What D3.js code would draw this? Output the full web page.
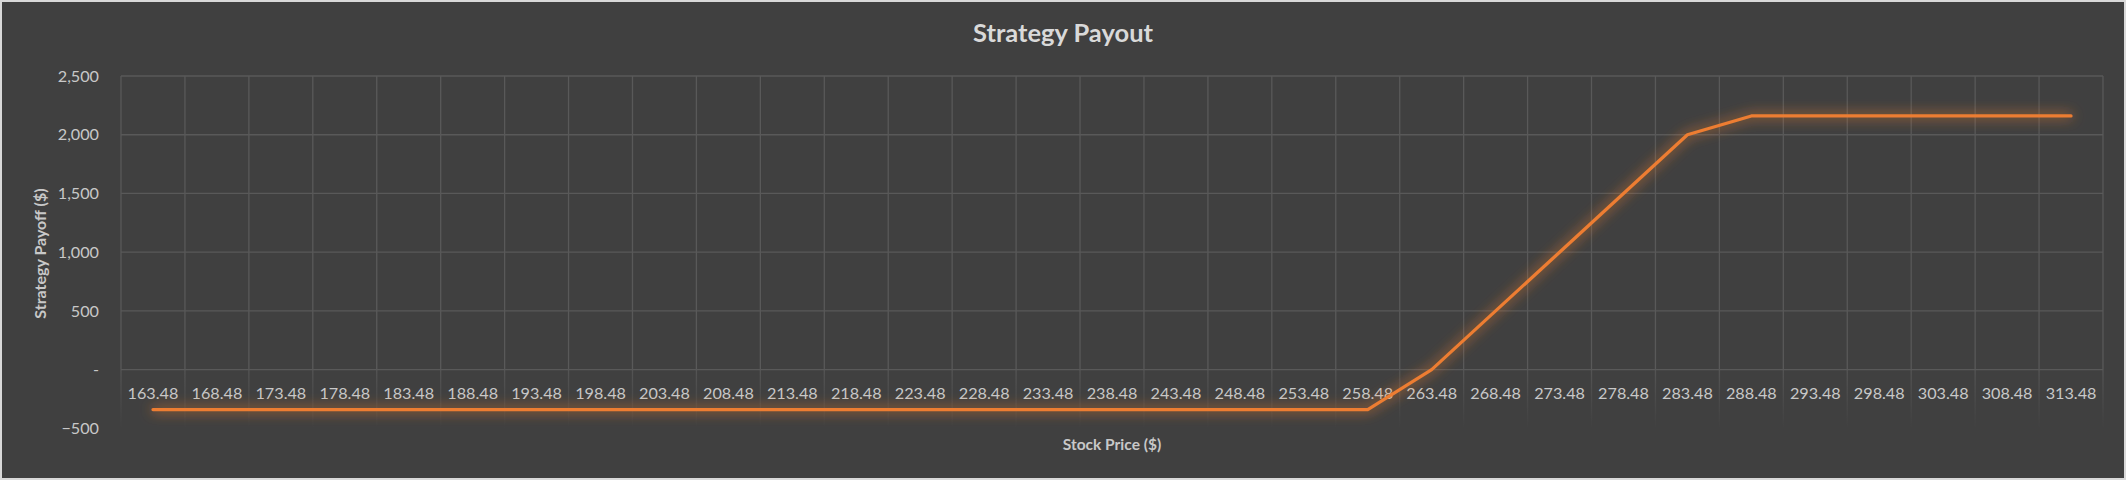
<!DOCTYPE html>
<html><head><meta charset="utf-8">
<script src="https://cdn.jsdelivr.net/npm/d3@7"></script>
<style>
html,body{margin:0;padding:0;background:#d9d9d9;}
svg{display:block;}
</style></head>
<body>
<script>
const categories = ["163.48","168.48","173.48","178.48","183.48","188.48","193.48","198.48","203.48","208.48","213.48","218.48","223.48","228.48","233.48","238.48","243.48","248.48","253.48","258.48","263.48","268.48","273.48","278.48","283.48","288.48","293.48","298.48","303.48","308.48","313.48"];
const payoff = [-340,-340,-340,-340,-340,-340,-340,-340,-340,-340,-340,-340,-340,-340,-340,-340,-340,-340,-340,-340,0,500,1000,1500,2000,2160,2160,2160,2160,2160,2160];
const yTicks = [-500,0,500,1000,1500,2000,2500];
const title = "Strategy Payout";
const xTitle = "Stock Price ($)";
const yTitle = "Strategy Payoff ($)";

const W = 2126, H = 480;
const plot = {left:121, right:2103, top:76, bottom:428.4};
const font = "Lato, 'Open Sans', sans-serif";

const svg = d3.select("body").append("svg").attr("width",W).attr("height",H);
svg.append("rect").attr("x",2).attr("y",2).attr("width",W-4).attr("height",H-4).attr("fill","#404040");

const defs = svg.append("defs");
const f = defs.append("filter").attr("id","glow").attr("x","-5%").attr("y","-60%").attr("width","110%").attr("height","220%");
f.append("feGaussianBlur").attr("in","SourceGraphic").attr("stdDeviation",6.5).attr("result","b");
f.append("feComponentTransfer").attr("in","b").attr("result","b2")
  .append("feFuncA").attr("type","linear").attr("slope",1.1);
const m = f.append("feMerge");
m.append("feMergeNode").attr("in","b2");
m.append("feMergeNode").attr("in","SourceGraphic");

const grad = defs.append("linearGradient").attr("id","fade").attr("x1",0).attr("y1",0).attr("x2",0).attr("y2",1);
grad.append("stop").attr("offset","0%").attr("stop-color","#595959").attr("stop-opacity",0.8);
grad.append("stop").attr("offset","100%").attr("stop-color","#595959").attr("stop-opacity",0);

const x = d3.scaleBand().domain(categories).range([plot.left, plot.right]).padding(0);
const y = d3.scaleLinear().domain([-500,2500]).range([plot.bottom, plot.top]);

const g = svg.append("g");
g.selectAll("line.h").data(yTicks.filter(d=>d>-500)).join("line")
  .attr("x1",plot.left).attr("x2",plot.right)
  .attr("y1",d=>y(d)).attr("y2",d=>y(d))
  .attr("stroke","#595959").attr("stroke-width",1.3);
const bounds = categories.map(c=>x(c)).concat([x(categories[categories.length-1])+x.bandwidth()]);
g.selectAll("line.v").data(bounds).join("line")
  .attr("x1",d=>d).attr("x2",d=>d).attr("y1",plot.top).attr("y2",y(0))
  .attr("stroke","#595959").attr("stroke-width",1.3);
g.selectAll("rect.vf").data(bounds).join("rect")
  .attr("x",d=>d-0.65).attr("width",1.3).attr("y",y(0)).attr("height",plot.bottom-y(0))
  .attr("fill","url(#fade)");

const xAxis = d3.axisBottom(x).tickSize(0).tickPadding(0);
const xa = svg.append("g").attr("transform",`translate(0,${y(0)})`).call(xAxis);
xa.select(".domain").remove();
xa.selectAll("text").attr("font-family",font).attr("font-size",16.2).attr("fill","#c8c8c8")
  .attr("dy",null).attr("y",29);

const fmt = d=> d===0 ? "-" : d3.format(",")(d);
const yAxis = d3.axisLeft(y).tickValues(yTicks).tickFormat(fmt).tickSize(0).tickPadding(0);
const ya = svg.append("g").attr("transform",`translate(99,0)`).call(yAxis);
ya.select(".domain").remove();
ya.selectAll("text").attr("font-family",font).attr("font-size",16.2).attr("fill","#c8c8c8");

const line = d3.line().x((d,i)=>x(categories[i])+x.bandwidth()/2).y(d=>y(d));
svg.append("path").datum(payoff).attr("d",line).attr("fill","none")
  .attr("stroke","#ED7D31").attr("stroke-width",3.2).attr("stroke-linejoin","round").attr("stroke-linecap","round")
  .attr("filter","url(#glow)");

svg.append("text").attr("x",W/2).attr("y",42).attr("text-anchor","middle")
  .attr("font-family",font).attr("font-weight","bold").attr("font-size",25.5).attr("fill","#d9d9d9").text(title);
svg.append("text").attr("x",(plot.left+plot.right)/2).attr("y",450).attr("text-anchor","middle")
  .attr("font-family",font).attr("font-weight","bold").attr("font-size",15.5).attr("fill","#c8c8c8").text(xTitle);
svg.append("text").attr("transform",`translate(46,253.5) rotate(-90)`).attr("text-anchor","middle")
  .attr("font-family",font).attr("font-weight","bold").attr("font-size",16).attr("fill","#c8c8c8").text(yTitle);
</script>
</body></html>
